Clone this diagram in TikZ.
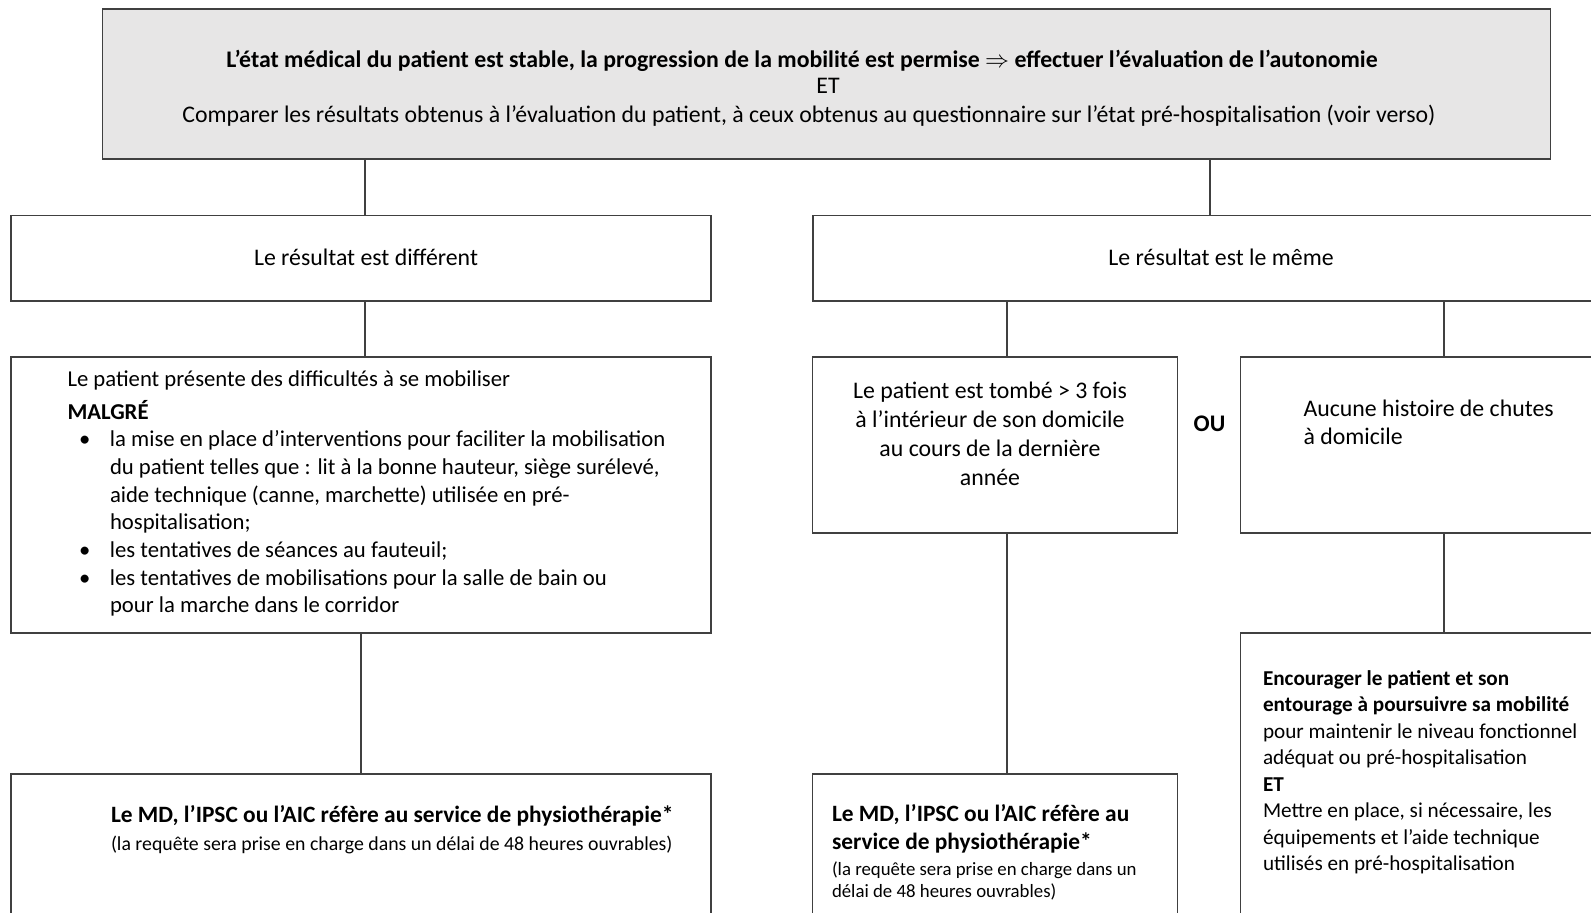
\documentclass[tikz,border=0pt]{standalone}
\usepackage{fontspec}
\setmainfont{Carlito}
\definecolor{linec}{HTML}{404040}
\definecolor{topfill}{HTML}{E7E6E6}
\begin{document}
\begin{tikzpicture}[x=0.5pt,y=-0.5pt,
  box/.style={draw=linec, line width=0.75pt, anchor=north west, inner sep=0pt, outer sep=0pt},
  conn/.style={draw=linec, line width=0.75pt},
  txt/.style={inner sep=0pt, outer sep=0pt, text=black, font=\fontsize{11.9}{14}\selectfont},
  btxt/.style={txt, font=\fontsize{11.9}{14}\selectfont\bfseries},
  stxt/.style={inner sep=0pt, outer sep=0pt, text=black, font=\fontsize{9.9}{10.75}\selectfont}]
\useasboundingbox (0,0) rectangle (1591,913);
\clip (0,0) rectangle (1591,913);
% boxes
\node[box, fill=topfill, minimum width=724pt, minimum height=75pt] (top) at (102.5,9) {};
\node[box, minimum width=350pt, minimum height=42.75pt] (l1) at (11,215.5) {};
\node[box, minimum width=407pt, minimum height=42.75pt] (r1) at (813,215.5) {};
\node[box, minimum width=350pt, minimum height=138pt] (l2) at (11,357) {};
\node[box, minimum width=182.5pt, minimum height=88pt] (m2) at (812.5,357) {};
\node[box, minimum width=200pt, minimum height=88pt] (r2) at (1240.5,357) {};
\node[box, minimum width=350pt, minimum height=100pt] (l3) at (11,774) {};
\node[box, minimum width=182.5pt, minimum height=100pt] (m3) at (812.5,774) {};
\node[box, minimum width=200pt, minimum height=170pt] (r3) at (1240.5,633) {};
% connector columns
\coordinate (cA) at (365,0);
\coordinate (cB) at (1210,0);
\coordinate (cC) at (1007,0);
\coordinate (cD) at (1444,0);
\coordinate (cE) at (361,0);
\draw[conn] (top.south -| cA) -- (l1.north -| cA);
\draw[conn] (top.south -| cB) -- (r1.north -| cB);
\draw[conn] (l1.south -| cA) -- (l2.north -| cA);
\draw[conn] (r1.south -| cC) -- (m2.north -| cC);
\draw[conn] (r1.south -| cD) -- (r2.north -| cD);
\draw[conn] (l2.south -| cE) -- (l3.north -| cE);
\draw[conn] (m2.south -| cC) -- (m3.north -| cC);
\draw[conn] (r2.south -| cD) -- (r3.north -| cD);
% texts
\node[btxt, anchor=base] (t1) at (802,68) {L’état médical du patient est stable, la progression de la mobilité est permise $\Rightarrow$ effectuer l’évaluation de l’autonomie};
\node[txt, anchor=base] (t2) at (828,94) {ET};
\node[txt, anchor=base] (t3) at (809,122.6) {Comparer les résultats obtenus à l’évaluation du patient, à ceux obtenus au questionnaire sur l’état pré-hospitalisation (voir verso)};
\node[txt, anchor=base] (l1t) at (366,265.5) {Le résultat est différent};
\node[txt, anchor=base] (r1t) at (1221,265.5) {Le résultat est le même};
\node[txt, font=\fontsize{11.35}{13.85}\selectfont, anchor=base west, align=left] (l2t) at (67.5,613) {Le patient présente des difficultés à se mobiliser\\[2.6pt]
\textbf{MALGRÉ}\\
\hspace*{5.75pt}\makebox[15.5pt][l]{\textbullet}la mise en place d’interventions pour faciliter la mobilisation\\
\hspace*{21.25pt}du patient telles que : lit à la bonne hauteur, siège surélevé,\\
\hspace*{21.25pt}aide technique (canne, marchette) utilisée en pré-\\
\hspace*{21.25pt}hospitalisation;\\
\hspace*{5.75pt}\makebox[15.5pt][l]{\textbullet}les tentatives de séances au fauteuil;\\
\hspace*{5.75pt}\makebox[15.5pt][l]{\textbullet}les tentatives de mobilisations pour la salle de bain ou\\
\hspace*{21.25pt}pour la marche dans le corridor};
\node[txt, font=\fontsize{11.9}{14.5}\selectfont, anchor=base, align=center] (m2t) at (990,486) {Le patient est tombé > 3 fois\\à l’intérieur de son domicile\\au cours de la dernière\\année};
\node[btxt, anchor=base] (ou) at (1209.5,431.5) {OU};
\node[txt, font=\fontsize{11.9}{14}\selectfont, anchor=base west, align=left] (r2t) at (1303.5,445) {Aucune histoire de chutes\\à domicile};
\node[btxt, font=\fontsize{11.7}{14}\selectfont\bfseries, anchor=base west] (l3a) at (111,823) {Le MD, l’IPSC ou l’AIC réfère au service de physiothérapie*};
\node[stxt, anchor=base west] (l3b) at (111,850.5) {(la requête sera prise en charge dans un délai de 48 heures ouvrables)};
\node[btxt, font=\fontsize{11.7}{14.2}\selectfont\bfseries, anchor=base west, align=left] (m3a) at (832,849.5) {Le MD, l’IPSC ou l’AIC réfère au\\service de physiothérapie*};
\node[stxt, font=\fontsize{9.4}{10.75}\selectfont, anchor=base west, align=left] (m3b) at (832,897.5) {(la requête sera prise en charge dans un\\délai de 48 heures ouvrables)};
\node[txt, font=\fontsize{10.6}{13.27}\selectfont, anchor=base west, align=left] (r3t) at (1263,871) {\textbf{Encourager le patient et son}\\
\textbf{entourage à poursuivre sa mobilité}\\
pour maintenir le niveau fonctionnel\\
adéquat ou pré-hospitalisation\\
\textbf{ET}\\
Mettre en place, si nécessaire, les\\
équipements et l’aide technique\\
utilisés en pré-hospitalisation};
\end{tikzpicture}
\end{document}
